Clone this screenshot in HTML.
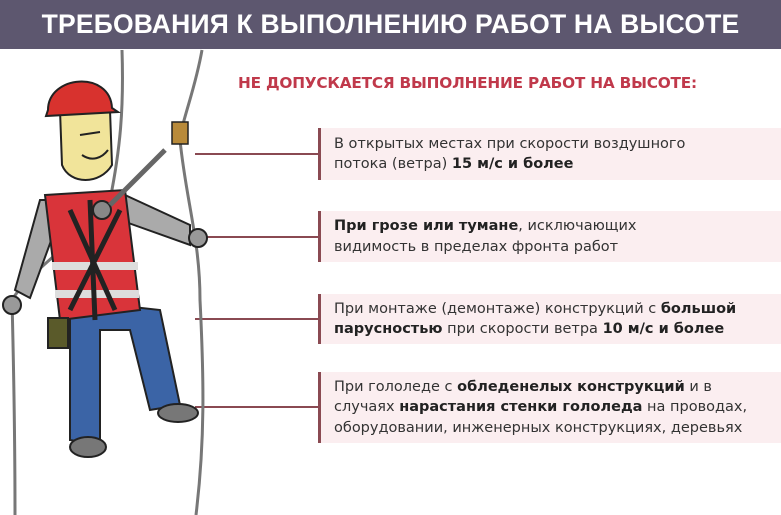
<!DOCTYPE html>
<html><head><meta charset="utf-8"><style>
body{margin:0;width:781px;height:515px;background:#fff;position:relative;overflow:hidden;font-family:"Liberation Sans","DejaVu Sans",sans-serif}
.hd{position:absolute;left:0;top:0;width:781px;height:49px;background:#5d576f;color:#fff;font-weight:bold;font-size:26.5px;line-height:49px;text-align:center;letter-spacing:0.2px}
.tt{position:absolute;left:238px;top:74px;color:#c0394b;font-weight:bold;font-size:15px;letter-spacing:-0.2px;font-family:"DejaVu Sans",sans-serif;transform:scaleX(1.02);transform-origin:left;white-space:nowrap}
.bx{position:absolute;left:318px;width:463px;background:#fbeef0;border-left:3px solid #8a4a52;box-sizing:border-box;padding-left:13px;font-family:"DejaVu Sans",sans-serif;font-size:14.5px;line-height:20.5px;color:#333;display:flex;flex-direction:column;justify-content:center}
.bx span{display:block;white-space:nowrap;transform:scaleX(1.0);transform-origin:left}
b{color:#222}
.ln{position:absolute;left:195px;width:123px;height:2px;background:#8a4a52}
</style></head><body>
<div class="hd">ТРЕБОВАНИЯ К ВЫПОЛНЕНИЮ РАБОТ НА ВЫСОТЕ</div>
<div class="tt">НЕ ДОПУСКАЕТСЯ ВЫПОЛНЕНИЕ РАБОТ НА ВЫСОТЕ:</div>
<div class="ln" style="top:153px"></div>
<div class="ln" style="top:236px"></div>
<div class="ln" style="top:318px"></div>
<div class="ln" style="top:406px"></div>
<div class="bx" style="top:128px;height:52px"><span>В открытых местах при скорости воздушного</span><span>потока (ветра) <b>15 м/с и более</b></span></div>
<div class="bx" style="top:211px;height:51px"><span><b>При грозе или тумане</b>, исключающих</span><span>видимость в пределах фронта работ</span></div>
<div class="bx" style="top:294px;height:50px"><span>При монтаже (демонтаже) конструкций с <b>большой</b></span><span><b>парусностью</b> при скорости ветра <b>10 м/с и более</b></span></div>
<div class="bx" style="top:372px;height:71px"><span>При гололеде с <b>обледенелых конструкций</b> и в</span><span>случаях <b>нарастания стенки гололеда</b> на проводах,</span><span>оборудовании, инженерных конструкциях, деревьях</span></div>
<svg style="position:absolute;left:0;top:0" width="240" height="515">
<g fill="none" stroke="#777" stroke-width="3">
<path d="M122 50 C124 110 120 150 110 200 C80 240 30 270 12 300 C14 380 15 450 15 515"/>
<path d="M202 50 C195 90 182 120 180 140 C186 200 200 240 200 300 C204 380 205 440 196 515"/>
</g>
<path d="M70 300 L70 440 L100 445 L100 330 L130 330 L150 410 L180 405 L160 310 Z" fill="#3b64a6" stroke="#222" stroke-width="2"/>
<ellipse cx="88" cy="447" rx="18" ry="10" fill="#777" stroke="#222" stroke-width="2"/>
<ellipse cx="178" cy="413" rx="20" ry="9" fill="#777" stroke="#222" stroke-width="2"/>
<path d="M48 200 L40 200 L15 290 L30 298 L55 230 Z" fill="#aaa" stroke="#222" stroke-width="2"/>
<path d="M125 195 L190 225 L190 245 L120 220 Z" fill="#aaa" stroke="#222" stroke-width="2"/>
<circle cx="198" cy="238" r="9" fill="#999" stroke="#222" stroke-width="2"/>
<circle cx="12" cy="305" r="9" fill="#999" stroke="#222" stroke-width="2"/>
<path d="M45 195 L125 190 L140 310 L60 320 Z" fill="#d9343a" stroke="#222" stroke-width="2"/>
<rect x="52" y="262" width="86" height="8" fill="#ddd"/>
<rect x="55" y="290" width="84" height="8" fill="#ddd"/>
<path d="M90 200 L95 320 M70 210 L115 310 M120 210 L70 310" stroke="#222" stroke-width="5" fill="none"/>
<circle cx="102" cy="210" r="9" fill="#888" stroke="#222" stroke-width="2"/>
<rect x="48" y="318" width="20" height="30" fill="#5a5a2a" stroke="#222" stroke-width="2"/>
<path d="M110 205 L165 150" stroke="#666" stroke-width="5"/>
<rect x="172" y="122" width="16" height="22" fill="#b88a3a" stroke="#222" stroke-width="1.5"/>
<path d="M60 110 L110 110 L112 165 C100 185 70 185 62 165 Z" fill="#f1e49a" stroke="#222" stroke-width="2"/>
<path d="M48 110 C48 75 110 70 112 108 L118 112 L46 116 Z" fill="#d8322e" stroke="#222" stroke-width="2"/>
<path d="M80 135 L100 132 M82 155 C92 162 102 158 108 150" stroke="#222" stroke-width="2" fill="none"/>
</svg>
</body></html>
